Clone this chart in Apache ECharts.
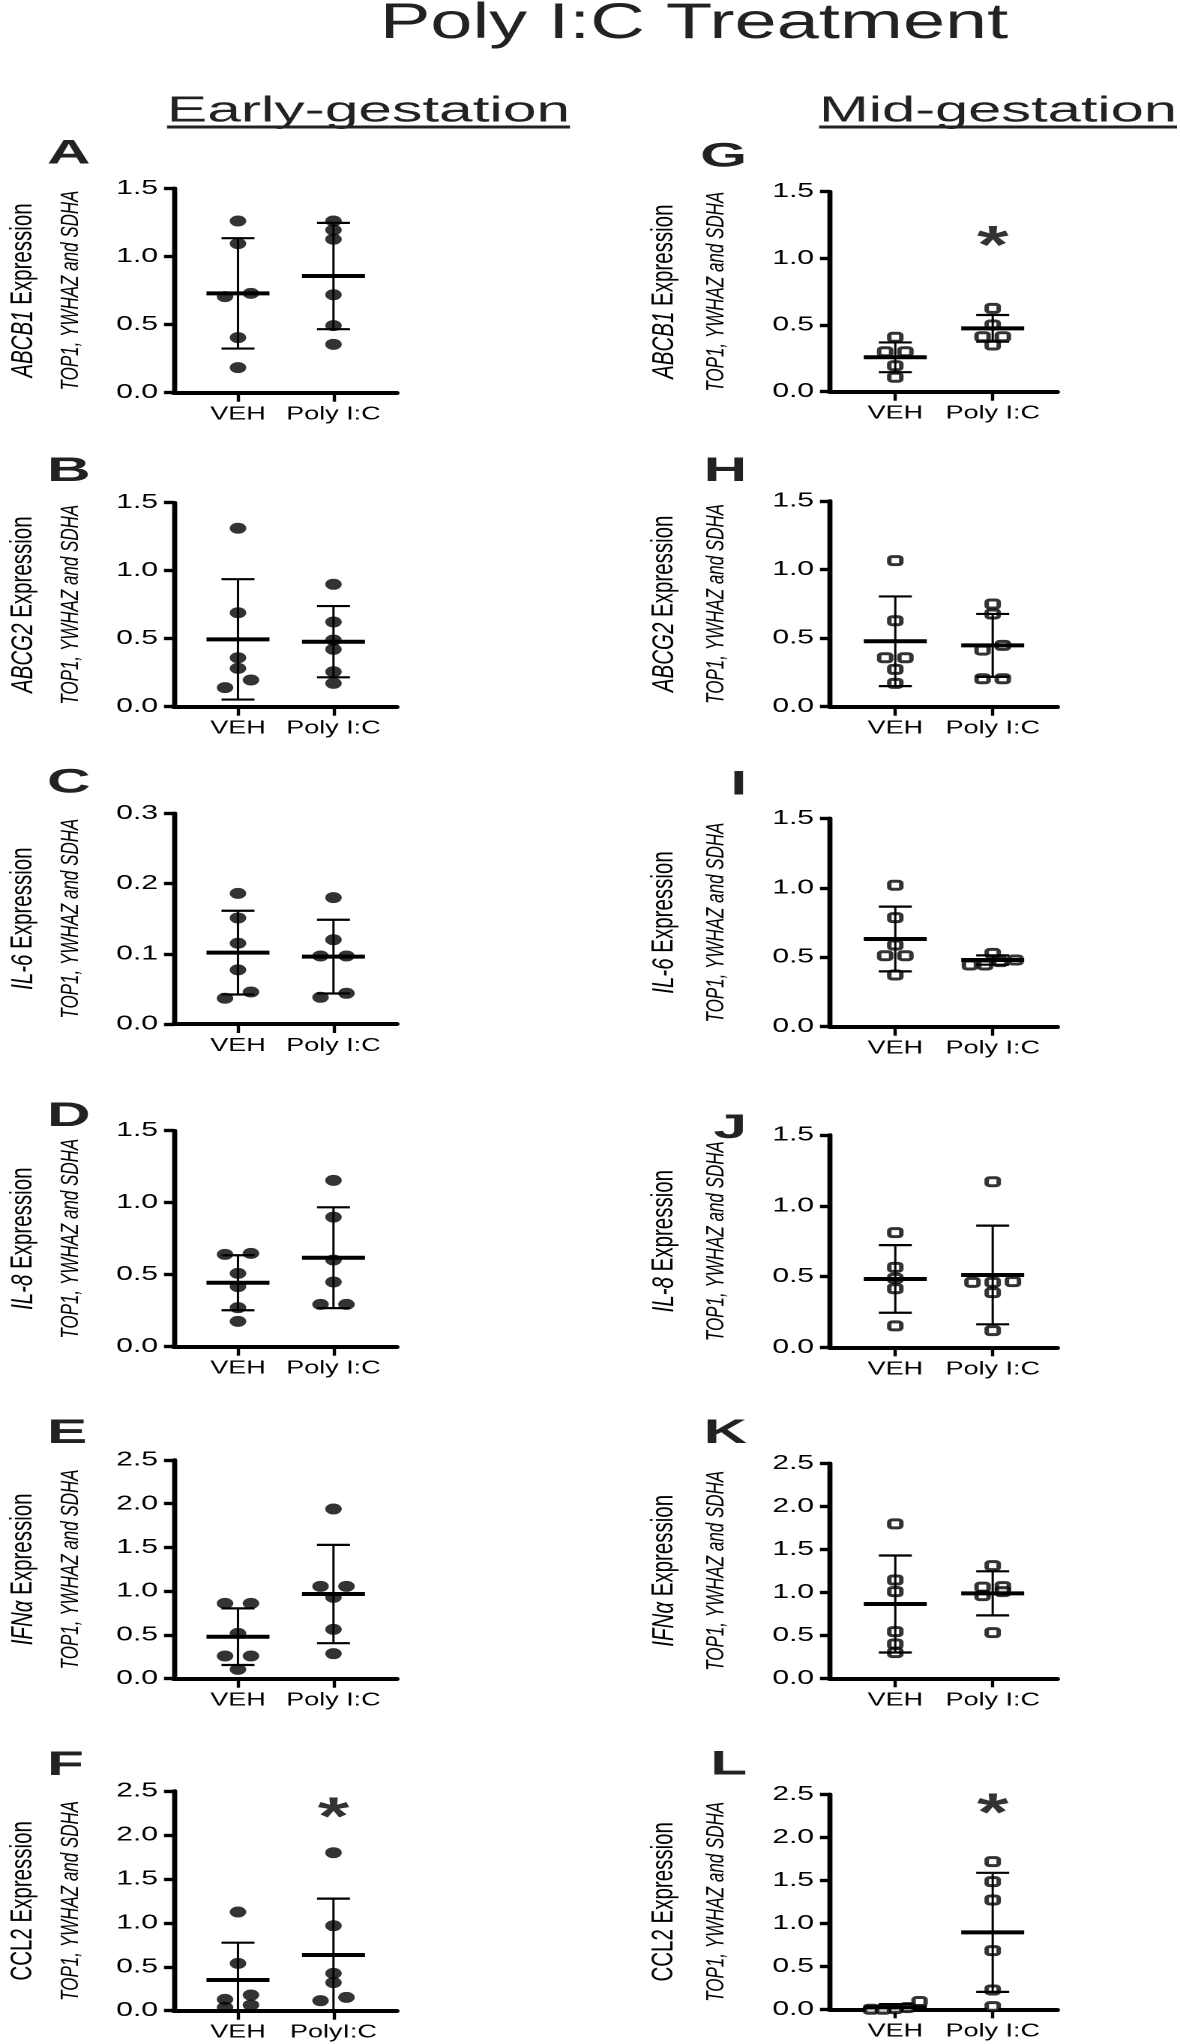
<!DOCTYPE html>
<html>
<head>
<meta charset="utf-8">
<script src="https://cdn.jsdelivr.net/npm/echarts@6/dist/echarts.min.js"></script>
<style>
    html, body { margin: 0; padding: 0; background: #fff; overflow: hidden; }
    /* the original figure is stretched sideways, so draw narrow and widen */
    #main { width: 787px; height: 2044px; transform: scaleX(1.49936); transform-origin: 0 0; }
</style>
</head>
<body>
<div id="main"></div>
<script>
const SX = 1180 / 787;
const FONT = '"Liberation Sans", Arial, Helvetica, sans-serif';

// genes, one row of panels each
const genes = ['ABCB1', 'ABCG2', 'IL-6', 'IL-8', 'IFNα', 'CCL2'];
const geneItalic = [true, true, true, true, true, false];
const earlyLetters = ['A', 'B', 'C', 'D', 'E', 'F'];
const midLetters = ['G', 'H', 'I', 'J', 'K', 'L'];
const earlyCats = [['VEH', 'Poly I:C'], ['VEH', 'Poly I:C'], ['VEH', 'Poly I:C'], ['VEH', 'Poly I:C'], ['VEH', 'Poly I:C'], ['VEH', 'PolyI:C']];
const midCats = [['VEH', 'Poly I:C'], ['VEH', 'Poly I:C'], ['VEH', 'Poly I:C'], ['VEH', 'Poly I:C'], ['VEH', 'Poly I:C'], ['VEH', 'Poly I:C']];

// y axis ticks
const earlyYMax = [1.5, 1.5, 0.3, 1.5, 2.5, 2.5];
const earlyYStep = [0.5, 0.5, 0.1, 0.5, 0.5, 0.5];
const midYMax = [1.5, 1.5, 1.5, 1.5, 2.5, 2.5];
const midYStep = [0.5, 0.5, 0.5, 0.5, 0.5, 0.5];

// early-gestation points (filled circles)
const earlyVeh = [
    [1.26, 1.094, 0.705, 0.729, 0.404, 0.184],
    [1.312, 0.691, 0.36, 0.282, 0.196, 0.14],
    [0.186, 0.151, 0.115, 0.077, 0.0456, 0.0366],
    [0.641, 0.648, 0.509, 0.417, 0.271, 0.176],
    [0.861, 0.861, 0.518, 0.259, 0.259, 0.107],
    [1.123, 0.539, 0.178, 0.129, 0.064, 0.038]
];
const earlyPoly = [
    [1.26, 1.194, 1.126, 0.719, 0.492, 0.355],
    [0.9, 0.623, 0.49, 0.422, 0.257, 0.172],
    [0.18, 0.12, 0.0968, 0.0968, 0.0437, 0.038],
    [1.155, 0.9, 0.602, 0.449, 0.294, 0.294],
    [1.94, 1.056, 1.056, 0.93, 0.564, 0.286],
    [1.798, 0.967, 0.425, 0.319, 0.152, 0.114]
];
// mean and SD, [VEH, Poly I:C]
const earlyMean = [[0.729, 0.856], [0.495, 0.478], [0.1016, 0.0959], [0.444, 0.618], [0.48, 0.968], [0.349, 0.634]];
const earlySd = [[0.405, 0.39], [0.4425, 0.262], [0.0596, 0.0525], [0.191, 0.35], [0.3235, 0.562], [0.425, 0.641]];

// mid-gestation points (open squares)
const midVeh = [
    [0.408, 0.3, 0.3, 0.195, 0.108],
    [1.065, 0.627, 0.357, 0.357, 0.272, 0.17],
    [1.018, 0.785, 0.588, 0.511, 0.511, 0.372],
    [0.81, 0.565, 0.487, 0.414, 0.151],
    [1.795, 1.143, 1.008, 0.543, 0.399, 0.298],
    [0.09, 0.02, 0.008, 0.0, 0.0]
];
const midPoly = [
    [0.625, 0.5, 0.4125, 0.4125, 0.35],
    [0.749, 0.676, 0.447, 0.413, 0.204, 0.204],
    [0.528, 0.48, 0.468, 0.444, 0.444],
    [1.17, 0.464, 0.459, 0.459, 0.386, 0.118],
    [1.31, 1.066, 1.06, 1.008, 0.961, 0.531],
    [1.717, 1.484, 1.271, 0.682, 0.225, 0.031]
];
const midMean = [[0.258, 0.475], [0.477, 0.447], [0.631, 0.48], [0.483, 0.511], [0.864, 0.988], [0.024, 0.895]];
const midSd = [[0.1115, 0.1], [0.327, 0.2295], [0.233, 0.0335], [0.239, 0.3485], [0.564, 0.256], [0.037, 0.692]];

// significance stars over Poly I:C (value height)
const earlyStar = [null, null, null, null, null, 2.3];
const midStar = [1.16, null, null, null, null, 2.38];

// layout (full-size pixels)
const colAxisX = [174, 830];
const colAxisEnd = [396.5, 1057];
const earlyTop = [188.3, 502.7, 813.3, 1130.7, 1460, 1791];
const earlyBottom = [392.7, 706.7, 1024, 1346.7, 1678.7, 2010.7];
const midTop = [191.7, 501, 818.3, 1135, 1463.3, 1794.3];
const midBottom = [391.7, 706.7, 1026.7, 1347.3, 1678.3, 2009.3];
const earlyLetterY = [154, 471.5, 783, 1116.5, 1433.5, 1765.5];
const midLetterY = [157, 471.5, 785, 1128.5, 1433.5, 1765];

const X_MIN = 0.33, X_MAX = 2.66;

// spread points that sit at nearly the same height, like Prism does
function swarmOffsets(vals, pxPerVal, slot) {
    let order = vals.map((v, i) => i).sort((a, b) => vals[a] - vals[b]);
    let rows = [];
    order.forEach(i => {
        let row = rows[rows.length - 1];
        if (row && (vals[i] - vals[row[0]]) * pxPerVal < 7.9) row.push(i);
        else rows.push([i]);
    });
    let off = new Array(vals.length).fill(0);
    rows.forEach(row => {
        let s = slot * Math.min(1, 3 / row.length);
        row.forEach((i, k) => {
            off[i] = (k - (row.length - 1) / 2) * s;
        });
    });
    return off;
}

// mean bar + SD whiskers
function renderMeanSd(params, api) {
    let x = api.value(0), m = api.value(1), sd = api.value(2);
    let lo = Math.max(0, m - sd);
    let pm = api.coord([x, m]), ph = api.coord([x, m + sd]), pl = api.coord([x, lo]);
    let line = (x1, y1, x2, y2, w) => ({
        type: 'line', shape: {x1: x1, y1: y1, x2: x2, y2: y2},
        style: {stroke: '#000', lineWidth: w}
    });
    let children = [
        line(pm[0] - 21, pm[1], pm[0] + 21, pm[1], 4),
        line(ph[0], ph[1], pl[0], pl[1], 1.5),
        line(ph[0] - 11, ph[1], ph[0] + 11, ph[1], 2.2)
    ];
    if (m - sd >= 0) children.push(line(pl[0] - 11, pl[1], pl[0] + 11, pl[1], 2.2));
    return {type: 'group', children: children};
}

let grids = [], xAxes = [], yAxes = [], series = [], graphics = [];

function addPanel(col, r, idx) {
    let early = col === 0;
    let top = early ? earlyTop[r] : midTop[r];
    let bottom = early ? earlyBottom[r] : midBottom[r];
    let yMax = early ? earlyYMax[r] : midYMax[r];
    let cats = early ? earlyCats[r] : midCats[r];
    let groups = early ? [earlyVeh[r], earlyPoly[r]] : [midVeh[r], midPoly[r]];
    let means = early ? earlyMean[r] : midMean[r];
    let sds = early ? earlySd[r] : midSd[r];
    let star = early ? earlyStar[r] : midStar[r];

    let left = colAxisX[col] / SX;
    let width = (colAxisEnd[col] - colAxisX[col]) / SX;
    let height = bottom - top;
    let unitPx = width / (X_MAX - X_MIN);
    let slotPx = early ? 17.3 : 13.5;

    grids.push({left: left, top: top, width: width, height: height});

    let gene = genes[r];
    let lh1 = early ? 40 : 46;
    xAxes.push({
        gridIndex: idx, type: 'value', min: X_MIN, max: X_MAX,
        axisLine: {show: true, onZero: false, lineStyle: {color: '#000', width: 4}},
        axisTick: {show: true, customValues: [1, 2], length: 9, lineStyle: {color: '#000', width: 2.2}},
        axisLabel: {
            customValues: [1, 2], margin: 13, color: '#000', fontSize: 18, fontFamily: FONT,
            formatter: v => cats[Math.round(v) - 1]
        },
        splitLine: {show: false}
    });
    yAxes.push({
        gridIndex: idx, type: 'value', min: 0, max: yMax, interval: early ? earlyYStep[r] : midYStep[r],
        axisLine: {show: true, onZero: false, lineStyle: {color: '#000', width: 3.4}},
        axisTick: {show: true, length: 6.7, lineStyle: {color: '#000', width: 3.4}},
        axisLabel: {margin: 10.7, color: '#000', fontSize: 20, fontFamily: FONT, formatter: v => v.toFixed(1)},
        splitLine: {show: false},
        name: '{g|' + gene + '}{n| Expression}\n{s|TOP1, YWHAZ and SDHA}',
        nameLocation: 'middle', nameRotate: 90, nameGap: early ? 57.5 : 64.5,
        nameTextStyle: {
            color: '#000', fontFamily: FONT,
            rich: {
                g: {fontSize: 20.5, fontStyle: geneItalic[r] ? 'italic' : 'normal', lineHeight: lh1, fontFamily: FONT, color: '#000'},
                n: {fontSize: 20.5, lineHeight: lh1, fontFamily: FONT, color: '#000'},
                s: {fontSize: 17, fontStyle: 'italic', lineHeight: 23, fontFamily: FONT, color: '#000'}
            }
        }
    });

    groups.forEach((vals, g) => {
        let off = swarmOffsets(vals, height / yMax, slotPx / unitPx);
        series.push({
            type: 'scatter', xAxisIndex: idx, yAxisIndex: idx, z: 2,
            data: vals.map((v, i) => [g + 1 + off[i], v]),
            symbol: early ? 'circle' : 'roundRect',
            symbolSize: early ? 11 : 8,
            itemStyle: early ? {color: '#000'} : {color: '#fff', borderColor: '#000', borderWidth: 3}
        });
    });

    series.push({
        type: 'custom', xAxisIndex: idx, yAxisIndex: idx, z: 3,
        renderItem: renderMeanSd,
        data: [[1, means[0], sds[0]], [2, means[1], sds[1]]]
    });

    if (star !== null) {
        series.push({
            type: 'scatter', xAxisIndex: idx, yAxisIndex: idx, z: 4,
            data: [[2, star]], symbolSize: 1, itemStyle: {color: 'rgba(0,0,0,0)'},
            label: {show: true, position: 'inside', formatter: '*', fontSize: 54, fontWeight: 'bold',
                color: '#000', fontFamily: FONT, offset: [0, 11]}
        });
    }

    // panel letter
    graphics.push({
        type: 'text',
        x: early ? 47 / SX : 747 / SX,
        y: early ? earlyLetterY[r] : midLetterY[r],
        scaleX: 1.18,
        style: {
            text: early ? earlyLetters[r] : midLetters[r],
            font: 'bold 34px ' + FONT, fill: '#222',
            align: early ? 'left' : 'right', verticalAlign: 'middle',
            textAlign: early ? 'left' : 'right', textVerticalAlign: 'middle'
        }
    });
}

for (let r = 0; r < 6; r++) {
    addPanel(0, r, r * 2);
    addPanel(1, r, r * 2 + 1);
}

// headings
function heading(text, cx, cy, size, sx) {
    return {
        type: 'text', x: cx / SX, y: cy, scaleX: sx,
        style: {
            text: text, font: size + 'px ' + FONT, fill: '#222',
            align: 'center', verticalAlign: 'middle', textAlign: 'center', textVerticalAlign: 'middle'
        }
    };
}
graphics.push(heading('Poly I:C Treatment', 694, 24, 50, 1.01));
graphics.push(heading('Early-gestation', 368.5, 111.5, 36, 1.12));
graphics.push(heading('Mid-gestation', 998, 111.5, 36, 1.105));
graphics.push({type: 'line', shape: {x1: 167 / SX, y1: 127, x2: 570 / SX, y2: 127}, style: {stroke: '#222', lineWidth: 3}});
graphics.push({type: 'line', shape: {x1: 819 / SX, y1: 127, x2: 1177 / SX, y2: 127}, style: {stroke: '#222', lineWidth: 3}});

let myChart = echarts.init(document.getElementById('main'), null, {devicePixelRatio: 2});
myChart.setOption({
    backgroundColor: '#fff',
    animation: false,
    grid: grids,
    xAxis: xAxes,
    yAxis: yAxes,
    series: series,
    graphic: graphics
});
</script>
</body>
</html>
